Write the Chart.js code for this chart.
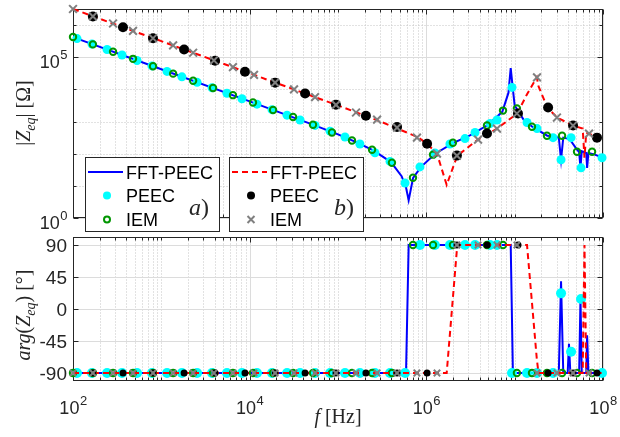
<!DOCTYPE html>
<html>
<head>
<meta charset="utf-8">
<script src="https://cdn.jsdelivr.net/npm/chart.js@4.4.1/dist/chart.umd.min.js"></script>
<style>
  html, body { margin: 0; padding: 0; background: #fff; }
  #wrap { position: relative; width: 620px; height: 437px; overflow: hidden; }
  canvas { position: absolute; left: 0; top: 0; }
  .lbl { position: absolute; font-family: "Liberation Serif", "DejaVu Serif", serif; font-size: 20px; color: #262626; white-space: nowrap; line-height: 1; }
  .rot { transform: translate(-50%, -50%) rotate(-90deg); }
  .ctr { transform: translate(-50%, -50%); }
  i { font-style: italic; }
  sub { font-size: 70%; vertical-align: -0.35em; line-height: 0; }
</style>
</head>
<body>
<div id="wrap">
  <canvas id="phase" width="620" height="437"></canvas>
  <canvas id="mag" width="620" height="437"></canvas>
  <div class="lbl rot" style="left:23px; top:113px;">|<i>Z</i><sub><i>eq</i></sub>| [Ω]</div>
  <div class="lbl rot" style="left:23px; top:315px;"><i>arg</i>(<i>Z</i><sub><i>eq</i></sub>) [°]</div>
  <div class="lbl ctr" style="left:338px; top:416px;"><i>f</i> [Hz]</div>
  <div class="lbl ctr" style="left:199px; top:207px; font-size:24px;"><i>a</i>)</div>
  <div class="lbl ctr" style="left:344px; top:207px; font-size:24px;"><i>b</i>)</div>
</div>
<script>
// values: frequency [Hz], |Z| [Ohm], phase [deg]

// a) FFT-PEEC (solid blue)
const fftA_f   = [1e2, 1e3, 1e4, 5.01e4, 1e5, 1.58e5, 2.51e5, 3.98e5, 5.25e5, 5.89e5, 6.31e5, 7.08e5, 8.71e5, 1.26e6, 2.0e6, 3.16e6, 5.01e6, 7.24e6, 8.51e6, 9.02e6, 9.55e6, 1e7, 1.26e7, 1.58e7, 2.34e7, 3.16e7, 3.35e7, 3.55e7, 3.98e7, 4.12e7, 4.27e7, 5.01e7, 5.37e7, 5.56e7, 5.75e7, 6.46e7, 6.61e7, 6.84e7, 7.94e7, 1e8];
const fftA_mag = [4.22e5, 4.22e4, 4.22e3, 832, 398, 234, 126, 55, 20, 8.9, 3.6, 17.8, 38.9, 100, 214, 380, 794, 2.0e3, 7.9e3, 4.57e4, 1.0e4, 3.16e3, 1.15e3, 692, 363, 316, 64.6, 316, 295, 282, 263, 141, 112, 36.3, 120, 105, 36.3, 105, 95.5, 75];
const fftA_ph  = [-90, -90, -90, -90, -90, -90, -90, -90, -90, -90, 90, 90, 90, 90, 90, 90, 90, 90, 90, 90, -90, -90, -90, -90, -90, -90, 39, -90, -90, -49, -90, -90, -90, 15, -90, -90, -37, -90, -90, -90];

// a) PEEC (cyan dots)
const peecA_f   = [111, 164, 243, 359, 531, 783, 1160, 1710, 2540, 3750, 5530, 8180, 1.21e4, 1.79e4, 2.65e4, 3.72e4, 5.50e4, 8.13e4, 1.20e5, 1.77e5, 2.62e5, 3.88e5, 5.74e5, 8.47e5, 1.25e6, 1.85e6, 2.74e6, 3.56e6, 5.26e6, 6.31e6, 9.33e6, 1.38e7, 1.79e7, 2.72e7, 3.35e7, 4.35e7, 5.64e7, 9.75e7];
const peecA_mag = [3.80e5, 2.57e5, 1.74e5, 1.17e5, 7.94e4, 5.37e4, 3.63e4, 2.45e4, 1.66e4, 1.12e4, 7590, 5130, 3470, 2340, 1580, 1120, 759, 501, 331, 200, 107, 57.5, 12.3, 38.9, 105, 200, 295, 457, 871, 1120, 1.15e4, 933, 603, 316, 64.6, 316, 36.3, 75];
const peecA_ph  = [-90, -90, -90, -90, -90, -90, -90, -90, -90, -90, -90, -90, -90, -90, -90, -90, -90, -90, -90, -90, -90, -90, -90, 90, 90, 90, 90, 90, 90, 90, -90, -90, -90, -90, 22, -60, 14, -90];

// a) IEM (green rings)
const iemA_f   = [100, 168, 284, 478, 805, 1360, 2290, 3850, 6470, 1.09e4, 1.84e4, 3.10e4, 5.21e4, 8.55e4, 1.44e5, 2.43e5, 4.08e5, 7.06e5, 1.19e6, 2.00e6, 4.86e6, 7.38e6, 1.06e7, 1.57e7, 2.32e7, 3.44e7, 5.08e7, 7.52e7];
const iemA_mag = [4.27e5, 2.51e5, 1.48e5, 8.91e4, 5.25e4, 3.09e4, 1.86e4, 1.10e4, 6610, 3890, 2290, 1380, 794, 457, 257, 133, 52.5, 17.8, 93.3, 219, 750, 2190, 2570, 692, 363, 363, 115, 115];
const iemA_ph  = [-90, -90, -90, -90, -90, -90, -90, -90, -90, -90, -90, -90, -90, -90, -90, -90, -90, 90, 90, 90, 90, 90, -90, -90, -90, -90, -90, -90];

// b) FFT-PEEC (dashed red)
const fftB_f   = [1e2, 1e3, 1e4, 1e5, 3.16e5, 7.94e5, 1.02e6, 1.32e6, 1.70e6, 2.24e6, 3.85e6, 6.31e6, 1.07e7, 1.38e7, 1.78e7, 1.86e7, 2.34e7, 3.02e7, 4.57e7, 5.89e7, 6.17e7, 6.46e7, 6.92e7, 8.71e7, 1e8];
const fftB_mag = [3.16e6, 3.16e5, 3.16e4, 3162, 955, 331, 204, 100, 10.7, 87, 275, 603, 1778, 7079, 2.37e4, 1.26e4, 2754, 1334, 750, 603, 75, 447, 422, 316, 257];
const fftB_ph  = [-90, -90, -90, -90, -90, -90, -90, -90, -90, 90, 90, 90, 90, 90, -70, -90, -90, -90, -90, -90, 90, -90, -90, -90, -90];

// b) PEEC (black dots)
const peecB_f   = [168, 368, 805, 1810, 4060, 8850, 1.94e4, 4.24e4, 9.48e4, 2.07e5, 4.66e5, 1.02e6, 2.22e6, 4.86e6, 1.09e7, 2.39e7, 4.58e7, 8.55e7];
const peecB_mag = [1.86e6, 8.51e5, 3.89e5, 1.74e5, 7.76e4, 3.55e4, 1.62e4, 7410, 3310, 1510, 676, 204, 87.1, 422, 1780, 2750, 750, 316];
const peecB_ph  = [-90, -90, -90, -90, -90, -90, -90, -90, -90, -90, -90, -90, 90, 90, 90, -90, -90, -90];

// b) IEM (grey crosses)
const iemB_f   = [100, 168, 284, 478, 805, 1360, 2290, 3940, 6470, 1.12e4, 1.94e4, 3.18e4, 5.50e4, 9.48e4, 1.60e5, 2.77e5, 4.66e5, 7.83e5, 1.32e6, 2.22e6, 3.85e6, 6.31e6, 1.06e7, 1.79e7, 3.01e7, 4.58e7, 6.95e7];
const iemB_mag = [3.16e6, 1.86e6, 1.12e6, 6.61e5, 3.89e5, 2.34e5, 1.38e5, 7.94e4, 4.90e4, 2.82e4, 1.62e4, 1.0e4, 5750, 3310, 1910, 1150, 646, 316, 100, 87.1, 275, 603, 1780, 2.37e4, 1330, 750, 422];
const iemB_ph  = [-90, -90, -90, -90, -90, -90, -90, -90, -90, -90, -90, -90, -90, -90, -90, -90, -90, -90, -90, 90, 90, 90, 90, -90, -90, -90, -90];

// ticks
const xTicks   = [1e2, 1e4, 1e6, 1e8];
const magTicks = [1e0, 1e5];
const magDecades = [1e1, 1e2, 1e3, 1e4, 1e6];
const phTicks  = [-90, -45, 0, 45, 90];

const FRAME = '#262626';
const SANS = '"Liberation Sans", Arial, sans-serif';

// minor x grid positions (2..9 x 10^n and the odd decades)
const xMinor = [];
for (let e = 2; e < 8; e++) for (let k = 1; k <= 9; k++) {
  const v = k * Math.pow(10, e);
  if (!xTicks.includes(v)) xMinor.push(v);
}

function pts(f, v) { return f.map((x, i) => ({ x: x, y: v[i] })); }

// grid, box and inward ticks like a MATLAB axes
function axesPlugin(yMajor, yMinor) {
  return {
    id: 'matlabAxes',
    beforeDatasetsDraw(chart) {
      const c = chart.ctx, a = chart.chartArea, sx = chart.scales.x, sy = chart.scales.y;
      const L = Math.round(a.left) + 0.5, R = Math.round(a.right) - 0.5;
      const T = Math.round(a.top) + 0.5, B = Math.round(a.bottom) - 0.5;
      const px = v => Math.round(sx.getPixelForValue(v)) + 0.5;
      const py = v => Math.round(sy.getPixelForValue(v)) + 0.5;
      c.save();
      c.lineWidth = 1;
      // dotted minor grid
      c.strokeStyle = '#c4c4c4';
      c.setLineDash([1, 2]);
      c.beginPath();
      xMinor.forEach(v => { c.moveTo(px(v), T); c.lineTo(px(v), B); });
      yMinor.forEach(v => { c.moveTo(L, py(v)); c.lineTo(R, py(v)); });
      c.stroke();
      // solid major grid
      c.setLineDash([]);
      c.strokeStyle = '#dcdcdc';
      c.beginPath();
      xTicks.forEach(v => { c.moveTo(px(v), T); c.lineTo(px(v), B); });
      yMajor.forEach(v => { c.moveTo(L, py(v)); c.lineTo(R, py(v)); });
      c.stroke();
      // ticks
      c.strokeStyle = FRAME;
      c.beginPath();
      xTicks.forEach(v => { c.moveTo(px(v), B); c.lineTo(px(v), B - 5); c.moveTo(px(v), T); c.lineTo(px(v), T + 5); });
      xMinor.forEach(v => { c.moveTo(px(v), B); c.lineTo(px(v), B - 3); c.moveTo(px(v), T); c.lineTo(px(v), T + 3); });
      yMajor.forEach(v => { c.moveTo(L, py(v)); c.lineTo(L + 5, py(v)); c.moveTo(R, py(v)); c.lineTo(R - 5, py(v)); });
      yMinor.forEach(v => { c.moveTo(L, py(v)); c.lineTo(L + 3, py(v)); c.moveTo(R, py(v)); c.lineTo(R - 3, py(v)); });
      c.stroke();
      c.strokeRect(L, T, R - L, B - T);
      c.restore();
    }
  };
}

// "10" with a raised exponent
function drawPow(c, exp, x, y, align) {
  c.font = '18px ' + SANS;
  const w1 = c.measureText('10').width;
  c.font = '13px ' + SANS;
  const w2 = c.measureText(exp).width;
  const x0 = align === 'right' ? x - w1 - w2 : x - (w1 + w2) / 2;
  c.textAlign = 'left';
  c.textBaseline = 'alphabetic';
  c.font = '18px ' + SANS;
  c.fillText('10', x0, y);
  c.font = '13px ' + SANS;
  c.fillText(exp, x0 + w1 + 0.5, y - 9);
}

const magLabels = {
  id: 'magLabels',
  afterDraw(chart) {
    const c = chart.ctx, sy = chart.scales.y;
    c.save();
    c.fillStyle = FRAME;
    magTicks.forEach(v => drawPow(c, String(Math.round(Math.log10(v))), 67, sy.getPixelForValue(v) + 11, 'right'));
    c.restore();
  }
};

const phLabels = {
  id: 'phLabels',
  afterDraw(chart) {
    const c = chart.ctx, sx = chart.scales.x, sy = chart.scales.y;
    c.save();
    c.fillStyle = FRAME;
    c.font = '19px ' + SANS;
    c.textAlign = 'right';
    c.textBaseline = 'alphabetic';
    phTicks.forEach(v => c.fillText(String(v), 67, sy.getPixelForValue(v) + 7));
    xTicks.forEach(v => drawPow(c, String(Math.round(Math.log10(v))), sx.getPixelForValue(v), 414, 'center'));
    c.restore();
  }
};

// the two legend boxes, a) and b)
const legendBoxes = {
  id: 'legendBoxes',
  afterDatasetsDraw(chart) {
    const c = chart.ctx;
    const rows = [172, 195.5, 219.5];
    const boxes = [
      { x: 85, names: ['FFT-PEEC', 'PEEC', 'IEM'], line: '#0000ff', dash: [], dot: '#00ffff', mark: 'ring', markColor: '#009600' },
      { x: 229, names: ['FFT-PEEC', 'PEEC', 'IEM'], line: '#ff0000', dash: [6, 4], dot: '#000000', mark: 'cross', markColor: '#808080' }
    ];
    c.save();
    boxes.forEach(b => {
      c.fillStyle = '#fff';
      c.fillRect(b.x + 0.5, 157.5, 134, 74);
      c.strokeStyle = FRAME;
      c.lineWidth = 1;
      c.strokeRect(b.x + 0.5, 157.5, 134, 74);
      // line sample
      c.strokeStyle = b.line;
      c.lineWidth = 2;
      c.setLineDash(b.dash);
      c.beginPath();
      c.moveTo(b.x + 3, rows[0]);
      c.lineTo(b.x + 38, rows[0]);
      c.stroke();
      c.setLineDash([]);
      // filled dot
      const mx = b.x + 22;
      c.fillStyle = b.dot;
      c.beginPath();
      c.arc(mx, rows[1], 4, 0, Math.PI * 2);
      c.fill();
      // ring or cross
      c.strokeStyle = b.markColor;
      c.lineWidth = 2;
      c.beginPath();
      if (b.mark === 'ring') {
        c.arc(mx, rows[2], 3, 0, Math.PI * 2);
      } else {
        c.moveTo(mx - 3.5, rows[2] - 3.5); c.lineTo(mx + 3.5, rows[2] + 3.5);
        c.moveTo(mx - 3.5, rows[2] + 3.5); c.lineTo(mx + 3.5, rows[2] - 3.5);
      }
      c.stroke();
      // names
      c.fillStyle = '#000';
      c.font = '18px ' + SANS;
      c.textAlign = 'left';
      c.textBaseline = 'alphabetic';
      b.names.forEach((n, i) => c.fillText(n, b.x + 41, rows[i] + 6.5));
    });
    c.restore();
  }
};

function datasets(yKey, big) {
  const ys = {
    fftA: yKey === 'mag' ? fftA_mag : fftA_ph,
    peecA: yKey === 'mag' ? peecA_mag : peecA_ph,
    iemA: yKey === 'mag' ? iemA_mag : iemA_ph,
    fftB: yKey === 'mag' ? fftB_mag : fftB_ph,
    peecB: yKey === 'mag' ? peecB_mag : peecB_ph,
    iemB: yKey === 'mag' ? iemB_mag : iemB_ph
  };
  return [
    { label: 'FFT-PEEC a', data: pts(fftA_f, ys.fftA), showLine: true, borderColor: '#0000ff', borderWidth: 2, pointRadius: 0, order: 6, clip: false },
    { label: 'PEEC a', data: pts(peecA_f, ys.peecA), pointStyle: 'circle', pointRadius: big ? 4.5 : 5, backgroundColor: '#00ffff', borderColor: '#00ffff', pointBorderWidth: 0, order: 5, clip: false },
    { label: 'IEM a', data: pts(iemA_f, ys.iemA), pointStyle: 'circle', pointRadius: 3.2, backgroundColor: 'rgba(0,0,0,0)', borderColor: '#009600', pointBorderWidth: 2, order: 4, clip: false },
    { label: 'FFT-PEEC b', data: pts(fftB_f, ys.fftB), showLine: true, borderColor: '#ff0000', borderWidth: 2, borderDash: [6, 4], pointRadius: 0, order: 3, clip: false },
    { label: 'PEEC b', data: pts(peecB_f, ys.peecB), pointStyle: 'circle', pointRadius: big ? 5 : 3.5, backgroundColor: '#000000', borderColor: '#000000', pointBorderWidth: 0, order: 2, clip: false },
    { label: 'IEM b', data: pts(iemB_f, ys.iemB), pointStyle: 'crossRot', pointRadius: big ? 5.5 : 4.5, borderColor: '#808080', pointBorderWidth: 2, order: 1, clip: false }
  ];
}

const common = {
  responsive: false,
  animation: false,
  events: [],
  plugins: { legend: { display: false }, tooltip: { enabled: false } },
  elements: { line: { tension: 0 } }
};

new Chart(document.getElementById('mag'), {
  type: 'scatter',
  data: { datasets: datasets('mag', true) },
  options: Object.assign({}, common, {
    layout: { padding: { left: 73, top: 9, right: 17, bottom: 219 } },
    scales: {
      x: { type: 'logarithmic', min: 1e2, max: 1e8, display: false },
      y: { type: 'logarithmic', min: 1, max: 3.1623e6, display: false }
    }
  }),
  plugins: [axesPlugin(magTicks, magDecades), magLabels, legendBoxes]
});

new Chart(document.getElementById('phase'), {
  type: 'scatter',
  data: { datasets: datasets('ph', false) },
  options: Object.assign({}, common, {
    layout: { padding: { left: 73, top: 237, right: 17, bottom: 56 } },
    scales: {
      x: { type: 'logarithmic', min: 1e2, max: 1e8, display: false },
      y: { type: 'linear', min: -101.25, max: 101.25, display: false }
    }
  }),
  plugins: [axesPlugin(phTicks, []), phLabels]
});
</script>
</body>
</html>
